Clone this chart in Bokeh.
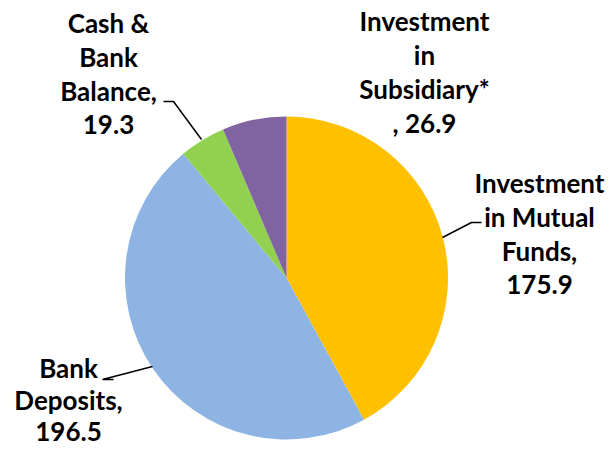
import math
from bokeh.plotting import figure
from bokeh.models import Range1d, ColumnDataSource
from bokeh.core.properties import value
from bokeh.embed import file_html
from bokeh.resources import INLINE

# ---- data ----
categories = ["Investment in Mutual Funds", "Bank Deposits", "Cash & Bank Balance", "Investment in Subsidiary*"]
values = [175.9, 196.5, 19.3, 26.9]
colors = ["#FFC000", "#8EB4E3", "#92D050", "#8064A2"]
label_lines = [
    ["Investment", "in Mutual", "Funds,", "175.9"],
    ["Bank", "Deposits,", "196.5"],
    ["Cash &", "Bank", "Balance,", "19.3"],
    ["Investment", "in", "Subsidiary*", ", 26.9"],
]

# ---- layout (screen pixel coordinates) ----
W, H = 605, 447
def sy(py):  # screen y -> data y
    return H - py

cx, cy, R = 286, 277.5, 161.5
label_pos = [(539, 182), (68, 367), (108, 22), (424, 20)]
line_steps = [34, 32, 34, 34]
leaders = [
    [(481, 222), (471, 222), (442, 237)],
    [(113, 379), (102, 379), (152, 366)],
    [(163, 101), (173, 101), (201, 139)],
]

p = figure(width=W, height=H, output_backend="svg", toolbar_location=None,
           x_range=Range1d(0, W), y_range=Range1d(0, H),
           min_border=0, outline_line_color=None)
p.axis.visible = False
p.grid.visible = False
p.background_fill_color = "white"
p.border_fill_color = "white"

total = sum(values)
starts, ends = [], []
cum = 0.0
for v in values:
    a0 = math.pi / 2 - 2 * math.pi * cum / total
    cum += v
    a1 = math.pi / 2 - 2 * math.pi * cum / total
    starts.append(a1)
    ends.append(a0)

src = ColumnDataSource(dict(x=[cx] * len(values), y=[sy(cy)] * len(values),
                            start=starts, end=ends, color=colors, cat=categories))
p.wedge(x="x", y="y", radius=R, start_angle="start", end_angle="end",
        fill_color="color", line_color=None, source=src)

for pts in leaders:
    p.line([q[0] for q in pts], [sy(q[1]) for q in pts], line_color="black", line_width=1.5)

tx, ty, tt = [], [], []
for lines, (lx, ly), st in zip(label_lines, label_pos, line_steps):
    for i, s in enumerate(lines):
        tx.append(lx)
        ty.append(sy(ly + i * st))
        tt.append(s)
p.text(x=tx, y=ty, text=tt, text_font=value("Lato"), text_font_style="bold",
       text_font_size="26px", text_align="center", text_baseline="middle", text_color="black")

open("out.html", "w").write(file_html(p, INLINE))
